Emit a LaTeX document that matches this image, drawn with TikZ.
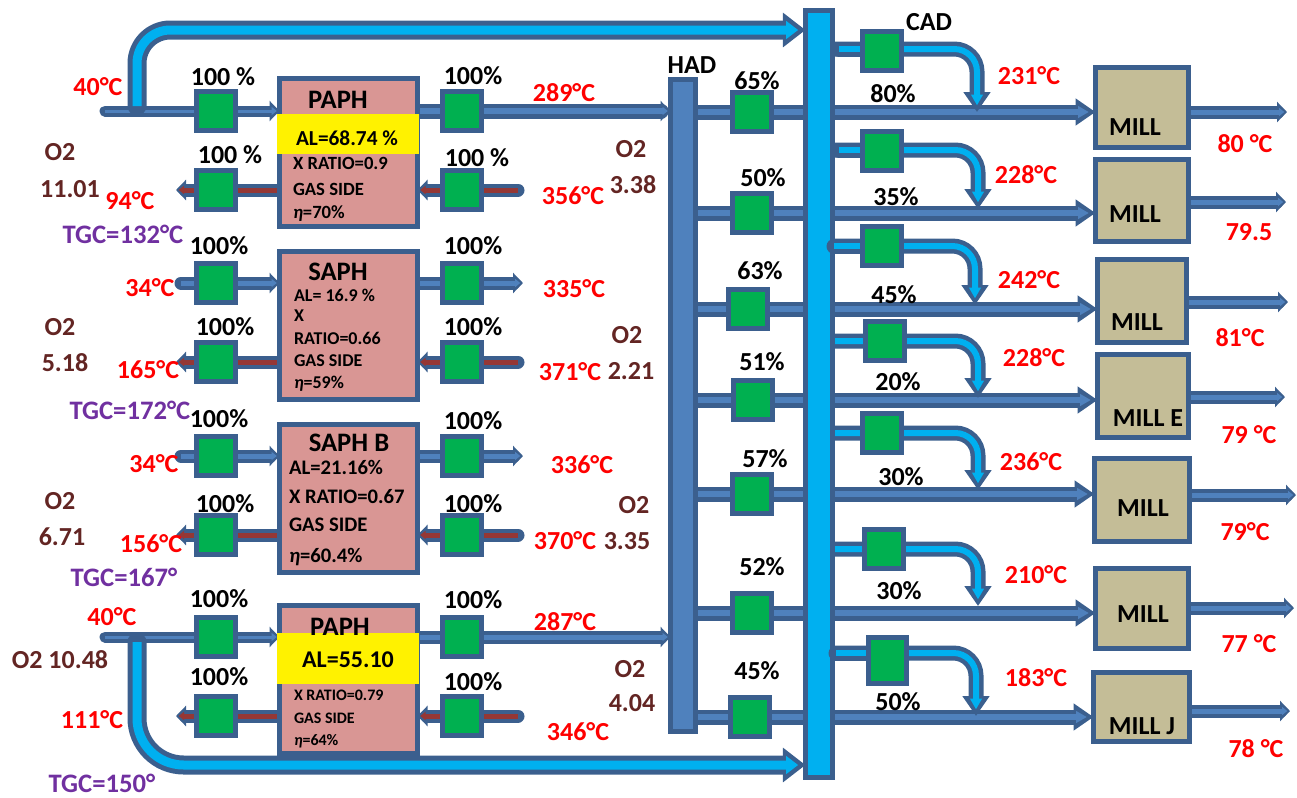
\documentclass[tikz,border=0pt]{standalone}
\usepackage{fontspec}
\setmainfont{Carlito}
\usetikzlibrary{arrows.meta,backgrounds}
\definecolor{edge}{HTML}{3B5F8E}
\definecolor{airc}{HTML}{4F81BD}
\definecolor{cac}{HTML}{00B0F0}
\definecolor{gasc}{HTML}{953735}
\definecolor{gr}{HTML}{00B050}
\definecolor{pinkb}{HTML}{D99694}
\definecolor{tanb}{HTML}{C4BD97}
\definecolor{brn}{HTML}{632523}
\definecolor{purp}{HTML}{7030A0}
\newcounter{lb}
\tikzset{
  every node/.style={inner sep=0pt,outer sep=0pt,font=\bfseries},
  solidbox/.style={draw=edge,line width=3.75pt,rectangle},
  greenbox/.style={solidbox,fill=gr,minimum width=29pt,minimum height=29pt},
  red/.style={text=red,font=\bfseries\fontsize{19.5}{22}\selectfont},
  o2/.style={text=brn,font=\bfseries\fontsize{19.5}{22}\selectfont},
  tg/.style={text=purp,font=\bfseries\fontsize{20}{22}\selectfont},
  pc/.style={text=black,font=\bfseries\fontsize{19.5}{22}\selectfont},
  ttl/.style={text=black,font=\bfseries\fontsize{20}{22}\selectfont},
  smA/.style={text=black,anchor=west,font=\bfseries\fontsize{14}{16}\selectfont},
  smB/.style={text=black,anchor=west,font=\bfseries\fontsize{13.5}{16}\selectfont},
  smC/.style={text=black,anchor=west,font=\bfseries\fontsize{15.5}{18}\selectfont},
  smD/.style={text=black,anchor=west,font=\bfseries\fontsize{12}{14}\selectfont},
  tipN/.style={},
  tipNi/.style={},
  tipS/.style={-{Triangle[length=7.5pt,width=15pt]}},
  tipSi/.style={-{Triangle[length=4pt,width=6pt]},shorten >=2pt},
  tipB/.style={rounded corners=17pt,-{Triangle[length=15pt,width=19.5pt]}},
  tipBi/.style={rounded corners=17pt,-{Triangle[length=8pt,width=8.5pt]},shorten >=5pt},
  tipC/.style={rounded corners=25pt,-{Triangle[length=17pt,width=25pt]}},
  tipCi/.style={rounded corners=25pt,-{Triangle[length=9pt,width=13pt]},shorten >=5.5pt},
  tipD/.style={rounded corners=35pt,-{Triangle[length=17pt,width=25pt]}},
  tipDi/.style={rounded corners=35pt,-{Triangle[length=9pt,width=13pt]},shorten >=5.5pt},
}
% #1 tip style, #2 outer px, #3 inner px, #4 inner colour, #5 path
\newcommand\pipe[5]{%
  \draw[draw=edge,line cap=round,line width=#2*0.75pt,#1] #5;
  \draw[draw=#4,line width=#3*0.75pt,#1i] #5;}
\newcommand\lab[4]{\stepcounter{lb}\node[#1] (L\arabic{lb}) at (#2,#3) {#4};}
\newcommand\eqbox[6]{\node[solidbox,fill=#2,minimum width=#5*0.75pt-3.75pt,minimum height=#6*0.75pt-3.75pt] (#1) at (#3+#5/2,#4+#6/2) {};}
\newcommand\sq[3]{\node[greenbox] (#1) at (#2,#3) {};}
\newcommand\etaa{\textit{η}}
\begin{document}
\begin{tikzpicture}[x=0.75pt,y=-0.75pt]
\useasboundingbox (0,0) rectangle (1297,797);
% heaters
\eqbox{pA}{pinkb}{277}{76}{143}{153}
\eqbox{pB}{pinkb}{277}{249}{143}{153}
\eqbox{pC}{pinkb}{277}{422}{143}{153}
\eqbox{pD}{pinkb}{277}{603}{143}{153}
\node[fill=yellow,minimum width=106.5pt,minimum height=30pt] (yA) at (348,134) {};
\node[fill=yellow,minimum width=106.5pt,minimum height=38pt] (yD) at (348,658.5) {};
% ducts
\eqbox{had}{airc}{668}{77}{30}{657}
\eqbox{bus}{cac}{803}{8}{32}{772}
% mills
\eqbox{mA}{tanb}{1093}{65}{98}{85}
\eqbox{mB}{tanb}{1093}{157}{98}{87}
\eqbox{mC}{tanb}{1095}{257}{94}{88}
\eqbox{mD}{tanb}{1095}{352}{96}{88}
\eqbox{mE}{tanb}{1092}{456}{100}{88}
\eqbox{mF}{tanb}{1093}{566}{98}{85}
\eqbox{mG}{tanb}{1091}{670}{101}{74}
% dampers around the heaters
\sq{a1}{216}{111}\sq{a2}{462}{111}\sq{a3}{216}{190}\sq{a4}{462}{190}
\sq{b1}{216}{283}\sq{b2}{462}{283}\sq{b3}{216}{362}\sq{b4}{462}{362}
\sq{c1}{216}{456}\sq{c2}{462}{456}\sq{c3}{216}{535}\sq{c4}{462}{535}
\sq{d1}{216}{637}\sq{d2}{462}{637}\sq{d3}{216}{716}\sq{d4}{462}{716}
% hot air dampers
\sq{h1}{752}{112}\sq{h2}{752}{213}\sq{h3}{748}{309}\sq{h4}{753}{400}\sq{h5}{752}{494}\sq{h6}{752}{613}\sq{h7}{750}{717}
% free ends
\coordinate (aS) at (105,111);
\coordinate (dS) at (105,637);
\coordinate (bS) at (181,283);\coordinate (bE) at (523,283);
\coordinate (cS) at (181,456);\coordinate (cE) at (523,456);
\coordinate (ca) at (137,106);\coordinate (cd) at (137,642);
\coordinate (gaI) at (518,190);\coordinate (gaO) at (176,190);
\coordinate (gbI) at (518,362);\coordinate (gbO) at (176,362);
\coordinate (gcI) at (518,535);\coordinate (gcO) at (176,535);
\coordinate (gdI) at (518,716);\coordinate (gdO) at (176,716);
\coordinate (xA) at (1287,112);\coordinate (xB) at (1286,202);\coordinate (xC) at (1288,302);\coordinate (xD) at (1285,397);
\coordinate (xE) at (1296,495);\coordinate (xF) at (1294,608);\coordinate (xG) at (1290,711);
\coordinate (j1) at (977,112);\coordinate (j2) at (978,209);\coordinate (j3) at (975,305);\coordinate (j4) at (978,398);
\coordinate (j5) at (978,490);\coordinate (j6) at (978,606);\coordinate (j7) at (976,716);
\begin{pgfonlayer}{background}
% air rows
\pipe{tipS}{11}{3}{airc}{(aS) -- (pA.west |- aS)}
\pipe{tipS}{11}{3}{airc}{(dS) -- (pD.west |- dS)}
\pipe{tipS}{13}{5}{airc}{(bS) -- (pB.west |- bS)}
\pipe{tipS}{13}{5}{airc}{(cS) -- (pC.west |- cS)}
\pipe{tipS}{13}{5}{airc}{(pB.east |- bE) -- (bE)}
\pipe{tipS}{13}{5}{airc}{(pC.east |- cE) -- (cE)}
\pipe{tipS}{15}{6}{airc}{(pA.east |- a2) -- (had.west |- a2)}
\pipe{tipS}{13}{5}{airc}{(pD.east |- d2) -- (had.west |- d2)}
% gas rows
\pipe{tipS}{13}{5}{gasc}{(gaI) -- (pA.east |- gaI)}
\pipe{tipS}{13}{5}{gasc}{(pA.west |- gaO) -- (gaO)}
\pipe{tipS}{13}{5}{gasc}{(gbI) -- (pB.east |- gbI)}
\pipe{tipS}{13}{5}{gasc}{(pB.west |- gbO) -- (gbO)}
\pipe{tipS}{13}{5}{gasc}{(gcI) -- (pC.east |- gcI)}
\pipe{tipS}{13}{5}{gasc}{(pC.west |- gcO) -- (gcO)}
\pipe{tipS}{13}{5}{gasc}{(gdI) -- (pD.east |- gdI)}
\pipe{tipS}{13}{5}{gasc}{(pD.west |- gdO) -- (gdO)}
% cold air bypass
\pipe{tipC}{19}{9}{cac}{(ca) -- (137,30) -- (bus.west |- 0,30)}
\pipe{tipD}{19}{9}{cac}{(cd) -- (137,765) -- (bus.west |- 0,765)}
% hot air to mills
\foreach \h/\m in {h1/mA,h2/mB,h3/mC,h4/mD,h5/mE,h6/mF,h7/mG}{
  \pipe{tipN}{15}{6}{airc}{(had.east |- \h) -- (bus.west |- \h)}
  \pipe{tipB}{15}{6}{airc}{(bus.east |- \h) -- (\m.west |- \h)}
}
% exits
\foreach \m/\x in {mA/xA,mB/xB,mC/xC,mD/xD,mE/xE,mF/xF,mG/xG}{
  \pipe{tipS}{13}{5}{airc}{(\m.east |- \x) -- (\x)}
}
% cold air to mills
\foreach \j/\y in {j1/49,j2/150,j3/246,j4/341,j5/433,j6/549,j7/653}{
  \pipe{tipB}{15}{6}{cac}{(bus.east |- 0,\y) -- (\j |- 0,\y) -- (\j)}
}
\end{pgfonlayer}
% starts of the cold air branches that lap over the duct edge, hidden at the damper
\coordinate (s1) at (839,49);\coordinate (s2) at (839,150);\coordinate (s3) at (834,246);\coordinate (s7) at (836,653);
\foreach \s in {s1,s2,s3,s7}{\pipe{tipN}{15}{6}{cac}{(\s) -- ++(30,0)}}
% cold air dampers
\sq{k1}{882}{51}\sq{k2}{882}{151}\sq{k3}{882}{246}\sq{k4}{885}{341}\sq{k5}{882}{433}\sq{k6}{884}{549}
\node[solidbox,fill=gr,minimum width=28.5pt,minimum height=34pt] (k7) at (887.5,660.5) {};
% heater text
\lab{ttl}{338}{100}{PAPH}
\lab{text=black,font=\bfseries\fontsize{16}{18}\selectfont}{347}{138}{AL=68.74 \%}
\lab{smA}{293}{163}{X RATIO=0.9}
\lab{smA}{293}{189}{GAS SIDE}
\lab{smA}{293}{214}{\etaa=70\%}
\lab{ttl}{338}{272}{SAPH}
\lab{smB}{294}{295}{AL= 16.9 \%}
\lab{smB}{294}{316}{X}
\lab{smB}{294}{338}{RATIO=0.66}
\lab{smB}{294}{361}{GAS SIDE}
\lab{smB}{294}{384}{\etaa=59\%}
\lab{ttl}{349}{443}{SAPH B}
\lab{smC}{289}{467}{AL=21.16\%}
\lab{smC}{289}{497}{X RATIO=0.67}
\lab{smC}{289}{525}{GAS SIDE}
\lab{smC}{289}{557}{\etaa=60.4\%}
\lab{ttl}{340}{627}{PAPH}
\lab{text=black,font=\bfseries\fontsize{18}{20}\selectfont}{348}{660}{AL=55.10}
\lab{smD}{294}{695}{X RATIO=0.79}
\lab{smD}{294}{718}{GAS SIDE}
\lab{smD}{294}{741}{\etaa=64\%}
% mill text
\lab{pc}{1135}{127}{MILL}
\lab{pc}{1135}{214}{MILL}
\lab{pc}{1137}{322}{MILL}
\lab{pc}{1148}{418}{MILL E}
\lab{pc}{1143}{508}{MILL}
\lab{pc}{1143}{614}{MILL}
\lab{pc}{1142}{726}{MILL J}
% percents
\lab{pc}{223}{77}{100 \%}\lab{pc}{473}{76}{100\%}\lab{pc}{230}{155}{100 \%}\lab{pc}{477}{158}{100 \%}
\lab{pc}{219}{246}{100\%}\lab{pc}{473}{246}{100\%}\lab{pc}{225}{327}{100\%}\lab{pc}{473}{327}{100\%}
\lab{pc}{219}{419}{100\%}\lab{pc}{473}{421}{100\%}\lab{pc}{225}{504}{100\%}\lab{pc}{473}{504}{100\%}
\lab{pc}{219}{599}{100\%}\lab{pc}{473}{600}{100\%}\lab{pc}{219}{677}{100\%}\lab{pc}{473}{682}{100\%}
\lab{pc}{692}{65}{HAD}\lab{pc}{929}{22}{CAD}
\lab{pc}{757}{81}{65\%}\lab{pc}{763}{178}{50\%}\lab{pc}{760}{271}{63\%}\lab{pc}{762}{362}{51\%}
\lab{pc}{765}{459}{57\%}\lab{pc}{762}{567}{52\%}\lab{pc}{757}{671}{45\%}
\lab{pc}{893}{94}{80\%}\lab{pc}{896}{197}{35\%}\lab{pc}{894}{295}{45\%}\lab{pc}{898}{382}{20\%}
\lab{pc}{901}{477}{30\%}\lab{pc}{899}{591}{30\%}\lab{pc}{898}{702}{50\%}
% temperatures
\lab{red}{98}{87}{40°C}\lab{red}{564}{93}{289°C}\lab{red}{130}{201}{94°C}\lab{red}{573}{196}{356°C}
\lab{red}{150}{288}{34°C}\lab{red}{574}{289}{335°C}\lab{red}{148}{370}{165°C}\lab{red}{570}{372}{371°C}
\lab{red}{154}{464}{34°C}\lab{red}{582}{465}{336°C}\lab{red}{151}{544}{156°C}\lab{red}{565}{541}{370°C}
\lab{red}{112}{617}{40°C}\lab{red}{565}{622}{287°C}\lab{red}{92}{720}{111°C}\lab{red}{578}{732}{346°C}
\lab{red}{1029}{76}{231°C}\lab{red}{1026}{175}{228°C}\lab{red}{1029}{280}{242°C}\lab{red}{1034}{358}{228°C}
\lab{red}{1031}{462}{236°C}\lab{red}{1036}{575}{210°C}\lab{red}{1036}{678}{183°C}
\lab{red}{1245}{144}{80 °C}\lab{red}{1249}{232}{79.5}\lab{red}{1240}{338}{81°C}\lab{red}{1249}{435}{79 °C}
\lab{red}{1245}{532}{79°C}\lab{red}{1249}{644}{77 °C}\lab{red}{1256}{749}{78 °C}
% oxygen
\lab{o2}{60}{152}{O2}\lab{o2}{70}{189}{11.01}\lab{o2}{631}{149}{O2}\lab{o2}{633}{185}{3.38}
\lab{o2}{60}{327}{O2}\lab{o2}{65}{363}{5.18}\lab{o2}{627}{335}{O2}\lab{o2}{631}{371}{2.21}
\lab{o2}{60}{501}{O2}\lab{o2}{62}{537}{6.71}\lab{o2}{634}{505}{O2}\lab{o2}{627}{541}{3.35}
\lab{o2}{60}{660}{O2 10.48}\lab{o2}{630}{669}{O2}\lab{o2}{632}{703}{4.04}
% TGC
\lab{tg}{123}{234}{TGC=132°C}\lab{tg}{130}{410}{TGC=172°C}\lab{tg}{124}{577}{TGC=167°}\lab{tg}{102}{783}{TGC=150°}
\end{tikzpicture}
\end{document}
